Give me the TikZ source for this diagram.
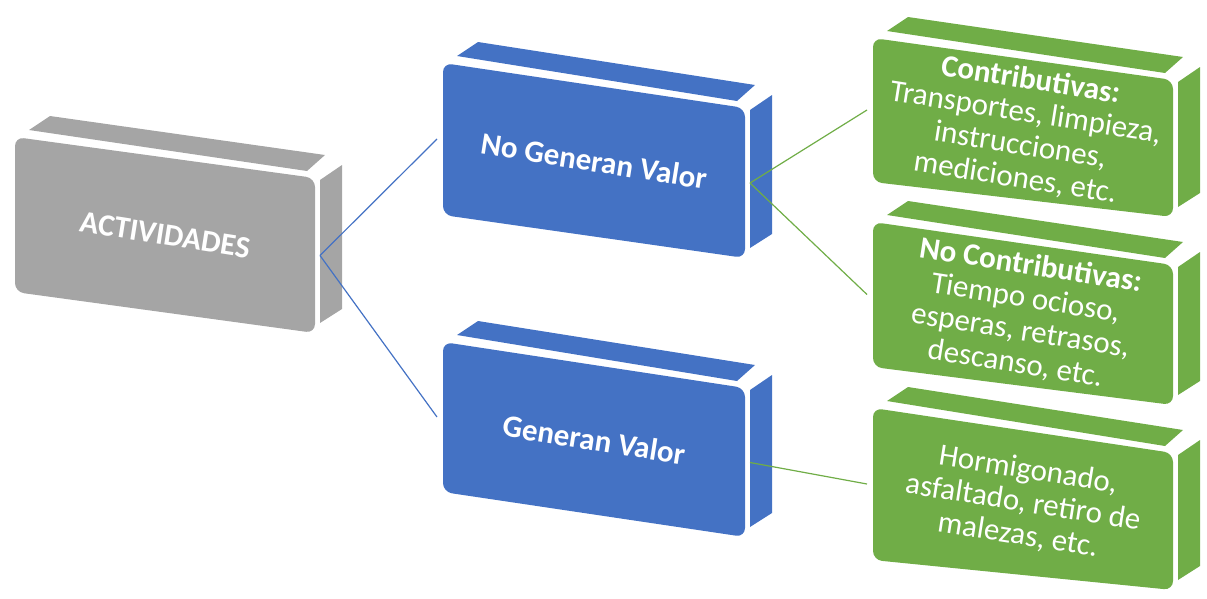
\documentclass[tikz,border=0pt]{standalone}
\usepackage{fontspec}
\setmainfont{Carlito}

\definecolor{slabgray}{HTML}{A5A5A5}
\definecolor{slabblue}{HTML}{4472C4}
\definecolor{slabgreen}{HTML}{70AD47}

\tikzset{
  slabtext/.style={text=white, align=center, inner sep=0pt,
    font=\fontsize{31}{33}\selectfont},
  bluelink/.style={draw=slabblue, line width=1.2pt},
  greenlink/.style={draw=slabgreen, line width=1.2pt},
}

% A slab seen in perspective: top face, right face and a rounded front face.
% #1 name, #2 x of top-left front corner, #3 y of it, #4 front width,
% #5 drop of the top edge, #6 left height, #7 right height, #8 colour, #9 text
\newcommand\slab[9]{%
  \fill[#8] (#2+14,#3-7) -- (#2+35,#3-21) -- (#2+#4+10,#3+#5-23)
            -- (#2+#4-8,#3+#5-7) -- cycle;
  \fill[#8] (#2+#4+5,#3+#5+2) -- (#2+#4+27,#3+#5-13)
            -- (#2+#4+27,#3+#5+#7-24) -- (#2+#4+5,#3+#5+#7-10) -- cycle;
  \fill[#8, rounded corners=9pt] (#2,#3) -- (#2+#4,#3+#5)
            -- (#2+#4,#3+#5+#7) -- (#2,#3+#6) -- cycle;
  \node[slabtext, rotate=-9] (#1) at (#2+#4/2, #3+#5/2+#6/4+#7/4) {#9};
  \coordinate (#1-in) at (#2-6, #3+#6/2);
  \coordinate (#1-out) at (#2+#4+5, #3+#5+#7/2);
}

\begin{document}
\begin{tikzpicture}[x=1pt, y=-1pt]
  \useasboundingbox (0,0) rectangle (1207,598);

  \slab{act}{15}{137}{300}{41}{155}{155}{slabgray}{\bfseries ACTIVIDADES}
  \slab{ngv}{443}{63}{302}{45}{152}{150}{slabblue}{\bfseries No Generan Valor}
  \slab{gv}{443}{342}{302}{46}{150}{149}{slabblue}{\bfseries Generan Valor}

  \slab{con}{873}{38}{300}{42}{144}{137}{slabgreen}%
    {\textbf{Contributivas:}\\Transportes, limpieza,\\instrucciones,\\mediciones, etc.}
  \slab{nocon}{873}{222}{300}{43}{145}{140}{slabgreen}%
    {\textbf{No Contributivas:}\\Tiempo ocioso,\\esperas, retrasos,\\descanso, etc.}
  \slab{hor}{873}{408}{300}{45}{152}{137}{slabgreen}%
    {Hormigonado,\\asfaltado, retiro de\\malezas, etc.}

  % connectors
  \draw[bluelink] (act-out) -- (ngv-in);
  \draw[bluelink] (act-out) -- (gv-in);
  \draw[greenlink] (ngv-out) -- (con-in);
  \draw[greenlink] (ngv-out) -- (nocon-in);
  \draw[greenlink] (gv-out) -- (hor-in);
\end{tikzpicture}
\end{document}
